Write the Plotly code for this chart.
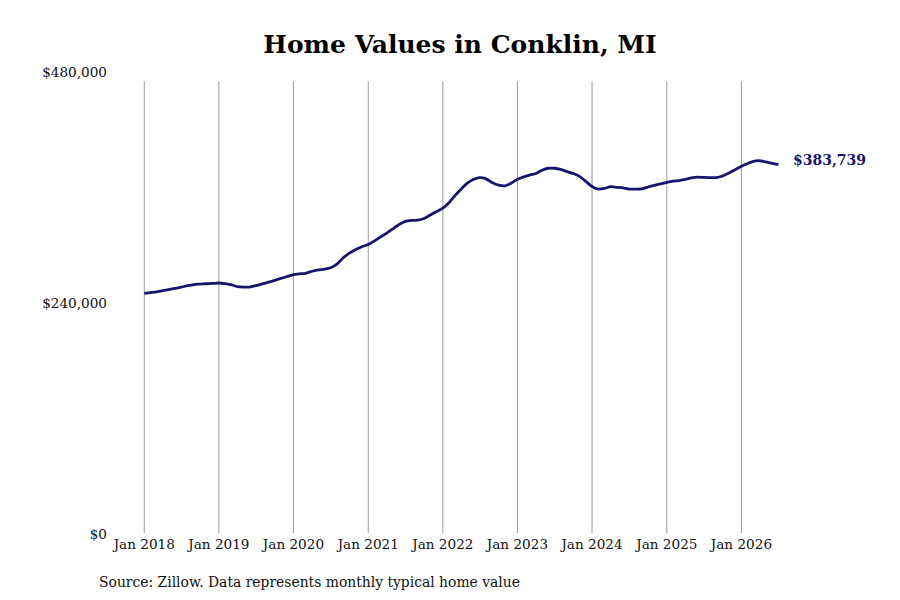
import pandas as pd
import plotly.graph_objects as go

# Monthly typical home value, Jan 2018 .. Jul 2026 (thousands of $)
values_k = [
    250.0, 250.8, 251.5, 252.8, 254.0, 255.2, 256.5, 258.0, 259.2, 259.6, 260.0, 260.3,
    260.8, 260.2, 259.0, 257.0, 256.5, 256.6, 258.0, 259.8, 261.6, 263.5, 265.5, 267.5,
    269.5, 270.3, 270.8, 273.0, 274.3, 275.2, 276.7, 280.5, 287.0, 291.8, 295.5, 298.5,
    300.8, 304.5, 308.5, 312.5, 317.0, 321.5, 324.8, 325.8, 326.0, 327.8, 331.5, 335.0,
    338.5, 344.5, 351.5, 358.5, 364.5, 368.5, 370.2, 369.0, 365.0, 362.5, 361.8, 364.5,
    368.5, 371.0, 372.8, 374.5, 378.0, 380.0, 380.0, 378.8, 376.5, 374.5, 371.5, 366.5,
    361.0, 358.3, 359.0, 360.8, 360.2, 359.5, 358.3, 358.3, 358.5, 360.5, 362.3, 363.8,
    365.3, 366.5, 367.2, 368.5, 370.0, 370.8, 370.5, 370.2, 370.3, 372.0, 375.0, 378.5,
    382.0, 385.0, 387.2, 387.8, 386.5, 385.0, 383.739,
]
values = [v * 1000 for v in values_k]
dates = pd.date_range("2018-01-01", periods=len(values), freq="MS")

tick_dates = pd.date_range("2018-01-01", "2026-01-01", freq="YS")
tick_labels = [d.strftime("Jan %Y") for d in tick_dates]
y_ticks = [0, 240000, 480000]
y_labels = ["$0", "$240,000", "$480,000"]

title_text = "Home Values in Conklin, MI"
source_text = "Source: Zillow. Data represents monthly typical home value"
end_label = "${:,.0f}".format(values[-1])

NAVY = "#15156b"
FONT = "DejaVu Serif"

fig = go.Figure()
fig.add_trace(go.Scatter(
    x=dates, y=values, mode="lines",
    line=dict(color=NAVY, width=2.8, shape="spline", smoothing=0.6),
    hoverinfo="skip", showlegend=False,
))

# vertical grid lines at the yearly ticks
for d in tick_dates:
    fig.add_shape(type="line", xref="x", yref="paper", x0=d, x1=d, y0=0.002, y1=0.98,
                  line=dict(color="#9a9a9a", width=1), layer="below")

fig.add_annotation(x=dates[-1], y=values[-1], text="<b>" + end_label + "</b>",
                   showarrow=False, xanchor="left", yanchor="middle", xshift=13, yshift=5,
                   font=dict(family=FONT, size=14, color=NAVY))

fig.add_annotation(xref="paper", yref="paper", x=-0.0228, y=-0.104, text=source_text,
                   showarrow=False, xanchor="left", yanchor="middle",
                   font=dict(family=FONT, size=13.9, color="#111111"))

fig.update_layout(
    width=900, height=600,
    paper_bgcolor="white", plot_bgcolor="white",
    margin=dict(l=105, r=92, t=64, b=74),
    title=dict(text="<b>" + title_text + "</b>", x=452 / 900, xanchor="center", xref="container",
               y=1 - 36 / 600, yanchor="middle", yref="container",
               font=dict(family=FONT, size=25, color="#000000")),
    font=dict(family=FONT, size=13, color="#111111"),
    xaxis=dict(range=["2017-08-01", "2027-01-01"], tickvals=tick_dates, ticktext=tick_labels,
               showgrid=False, zeroline=False, showline=False, ticks="",
               tickfont=dict(family=FONT, size=13.6, color="#111111")),
    yaxis=dict(range=[0, 480000], tickvals=y_ticks, ticktext=y_labels,
               showgrid=False, zeroline=False, showline=False, ticks="",
               ticklabelstandoff=5,
               tickfont=dict(family=FONT, size=13.6, color="#111111")),
)

fig.write_html("out.html")
